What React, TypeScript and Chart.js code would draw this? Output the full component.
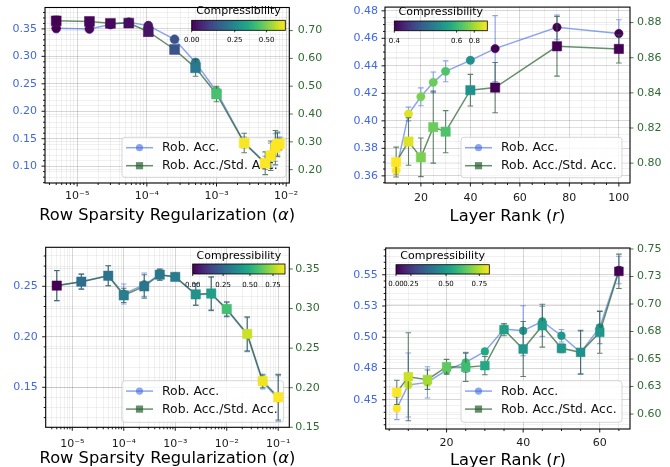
import React, { useEffect, useRef } from "react";
import { Chart, registerables } from "chart.js";

Chart.register(...registerables);

// ================= DATA =================
// Top-left: row sparsity regularization (model 1)
const alpha1 = [5e-6, 1.5e-5, 3e-5, 5.5e-5, 1.05e-4, 2.5e-4, 5e-4, 1e-3, 2.5e-3, 5e-3, 6e-3, 7e-3, 7.5e-3, 8e-3];
const robAcc1 = [0.351, 0.35, 0.358, 0.362, 0.356, 0.331, 0.289, 0.236, 0.143, 0.106, 0.12, 0.134, 0.14, 0.141];
const robAccErr1 = [0.008, 0.007, 0.005, 0.004, 0.004, 0.004, 0.006, 0.007, 0.01, 0.012, 0.022, 0.025, 0.02, 0.012];
const ratio1 = [0.735, 0.733, 0.726, 0.727, 0.696, 0.632, 0.566, 0.472, 0.296, 0.223, 0.25, 0.279, 0.291, 0.293];
const ratioErr1 = [0.017, 0.012, 0.012, 0.012, 0.008, 0.01, 0.03, 0.028, 0.035, 0.041, 0.053, 0.062, 0.044, 0.02];
const comp1 = [0.0, 0.01, 0.01, 0.02, 0.03, 0.14, 0.22, 0.43, 0.64, 0.65, 0.65, 0.65, 0.65, 0.65];
const xTicks1 = [1e-5, 1e-4, 1e-3, 1e-2];
const yLeftTicks1 = [0.1, 0.15, 0.2, 0.25, 0.3, 0.35];
const yRightTicks1 = [0.2, 0.3, 0.4, 0.5, 0.6, 0.7];
const cbTicks1 = [0.0, 0.25, 0.5];
const cbLabels1 = ["0.00", "0.25", "0.50"];
const cbMax1 = 0.647;

// Top-right: layer rank (model 1)
const rank2 = [10, 15, 20, 25, 30, 40, 50, 75, 100];
const robAcc2 = [0.364, 0.405, 0.4175, 0.428, 0.436, 0.444, 0.4525, 0.468, 0.4635];
const robAccErr2 = [0.003, 0.005, 0.0065, 0.0075, 0.0076, 0.001, 0.024, 0.009, 0.01];
const ratio2 = [0.8006, 0.8123, 0.8033, 0.8205, 0.8179, 0.8415, 0.843, 0.8665, 0.865];
const ratioErr2 = [0.0085, 0.0135, 0.011, 0.0205, 0.012, 0.009, 0.0143, 0.017, 0.008];
const comp2 = [0.947, 0.895, 0.737, 0.705, 0.653, 0.549, 0.4, 0.4, 0.4];
const xTicks2 = [20, 40, 60, 80, 100];
const yLeftTicks2 = [0.36, 0.38, 0.4, 0.42, 0.44, 0.46, 0.48];
const yRightTicks2 = [0.8, 0.82, 0.84, 0.86, 0.88];
const cbTicks2 = [0.4, 0.6, 0.8];
const cbLabels2 = ["0.4", "0.6", "0.8"];
const cbMax2 = 0.947;

// Bottom-left: row sparsity regularization (model 2)
const alpha3 = [5e-6, 1.5e-5, 5e-5, 1e-4, 2.5e-4, 5e-4, 1e-3, 2.5e-3, 5e-3, 1e-2, 2.5e-2, 5e-2, 1e-1];
const robAcc3 = [0.2506, 0.2546, 0.2605, 0.2424, 0.2516, 0.2615, 0.2595, 0.2417, 0.2424, 0.2268, 0.2021, 0.155, 0.139];
const robAccErr3 = [0.0149, 0.0074, 0.0099, 0.0099, 0.0116, 0.0054, 0.002, 0.0107, 0.0165, 0.0071, 0.0168, 0.0066, 0.0226];
const ratio3 = [0.329, 0.334, 0.3415, 0.3166, 0.328, 0.3428, 0.34, 0.318, 0.319, 0.2995, 0.268, 0.2085, 0.188];
const ratioErr3 = [0.019, 0.0095, 0.0126, 0.009, 0.0148, 0.007, 0.0025, 0.0136, 0.021, 0.0091, 0.0215, 0.0085, 0.0288];
const comp3 = [0.0, 0.276, 0.293, 0.328, 0.302, 0.31, 0.319, 0.405, 0.44, 0.58, 0.8, 0.86, 0.88];
const xTicks3 = [1e-5, 1e-4, 1e-3, 1e-2, 1e-1];
const yLeftTicks3 = [0.15, 0.2, 0.25];
const yRightTicks3 = [0.15, 0.2, 0.25, 0.3, 0.35];
const cbTicks3 = [0.0, 0.25, 0.5, 0.75];
const cbLabels3 = ["0.00", "0.25", "0.50", "0.75"];
const cbMax3 = 0.88;

// Bottom-right: layer rank (model 2)
const rank4 = [7, 10, 15, 20, 25, 30, 35, 40, 45, 50, 55, 60, 65];
const robAcc4 = [0.4431, 0.4618, 0.4639, 0.4738, 0.4799, 0.4887, 0.5066, 0.5052, 0.5127, 0.5012, 0.4879, 0.5079, 0.5538];
const robAccErr4 = [0.009, 0.0256, 0.0125, 0.003, 0.008, 0.002, 0.003, 0.02, 0.012, 0.005, 0.017, 0.013, 0.011];
const ratio4 = [0.6197, 0.6339, 0.6312, 0.643, 0.6425, 0.644, 0.6767, 0.6591, 0.6803, 0.6597, 0.6561, 0.6743, 0.7297];
const ratioErr4 = [0.011, 0.04, 0.0088, 0.0067, 0.0129, 0.0083, 0.0055, 0.025, 0.0195, 0.004, 0.02, 0.019, 0.0156];
const comp4 = [0.825, 0.77, 0.73, 0.65, 0.607, 0.545, 0.517, 0.49, 0.503, 0.49, 0.475, 0.49, 0.0];
const xTicks4 = [20, 40, 60];
const yLeftTicks4 = [0.45, 0.475, 0.5, 0.525, 0.55];
const yRightTicks4 = [0.6, 0.625, 0.65, 0.675, 0.7, 0.725, 0.75];
const cbTicks4 = [0.0, 0.25, 0.5, 0.75];
const cbLabels4 = ["0.00", "0.25", "0.50", "0.75"];
const cbMax4 = 0.825;

const legendLabels = ["Rob. Acc.", "Rob. Acc./Std. Acc."];

// ================= STYLE =================
const FONT = "'DejaVu Sans', 'Liberation Sans', sans-serif";
const BLUE_TXT = "#4169e1";
const GREEN_TXT = "#2e6b31";
const BLUE_LINE = "rgba(65,105,225,0.6)";
const GREEN_LINE = "rgba(40,95,45,0.7)";
const BLUE_ERR = "rgba(65,105,225,0.6)";
const GREEN_ERR = "rgba(45,90,60,0.75)";
const GRID_MAJOR = "rgba(0,0,0,0.2)";
const GRID_MINOR = "rgba(0,0,0,0.07)";
const GRID_RIGHT = "rgba(0,0,0,0.09)";

const VIRIDIS = ["#440154", "#482475", "#414487", "#355f8d", "#2a788e", "#21918c", "#22a884", "#44bf70", "#7ad151", "#bddf26", "#fde725"];
const VRGB = VIRIDIS.map((h) => [parseInt(h.slice(1, 3), 16), parseInt(h.slice(3, 5), 16), parseInt(h.slice(5, 7), 16)]);
function viridis(t: number) {
  const c = Math.max(0, Math.min(1, t));
  const p = c * 10;
  const i = Math.min(9, Math.floor(p));
  const f = p - i;
  const a = VRGB[i], b = VRGB[i + 1];
  return `rgb(${Math.round(a[0] + (b[0] - a[0]) * f)},${Math.round(a[1] + (b[1] - a[1]) * f)},${Math.round(a[2] + (b[2] - a[2]) * f)})`;
}
function normFrac(v: number, vals: number[], fracs: number[]) {
  if (v <= vals[0]) return fracs[0];
  for (let i = 0; i < vals.length - 1; i++) {
    if (v <= vals[i + 1]) return fracs[i] + ((v - vals[i]) / (vals[i + 1] - vals[i])) * (fracs[i + 1] - fracs[i]);
  }
  return fracs[fracs.length - 1];
}

type TickObj = { value: number; major: boolean };
function buildLinTicks(min: number, max: number, majors: number[], minorStep: number): TickObj[] {
  const out: TickObj[] = [];
  majors.forEach((m) => {
    if (m >= min - 1e-12 && m <= max + 1e-12) out.push({ value: m, major: true });
  });
  if (minorStep > 0) {
    const k0 = Math.ceil(min / minorStep - 1e-9);
    const k1 = Math.floor(max / minorStep + 1e-9);
    for (let k = k0; k <= k1; k++) {
      const v = +(k * minorStep).toFixed(10);
      if (!majors.some((m) => Math.abs(m - v) < minorStep * 1e-3)) out.push({ value: v, major: false });
    }
  }
  return out.sort((a, b) => a.value - b.value);
}
function buildLogTicks(min: number, max: number): TickObj[] {
  const out: TickObj[] = [];
  const d0 = Math.floor(Math.log10(min));
  const d1 = Math.ceil(Math.log10(max));
  for (let d = d0; d <= d1; d++) {
    for (let m = 1; m <= 9; m++) {
      const v = m * Math.pow(10, d);
      if (v >= min && v <= max) out.push({ value: v, major: m === 1 });
    }
  }
  return out;
}
const SUP: Record<string, string> = { "-": "\u207b", "0": "\u2070", "1": "\u00b9", "2": "\u00b2", "3": "\u00b3", "4": "\u2074", "5": "\u2075", "6": "\u2076", "7": "\u2077", "8": "\u2078", "9": "\u2079" };
function pow10Label(v: number) {
  const e = Math.round(Math.log10(v));
  return "10" + String(e).split("").map((c) => SUP[c]).join("");
}
const fmt2 = (v: number) => (v + 1e-9).toFixed(2);

type Panel = {
  left: number; top: number; w: number; h: number;
  area: { l: number; r: number; t: number; b: number };
  xType: "logarithmic" | "linear";
  xMin: number; xMax: number; xMajor: number[]; xMinor: number;
  yLMin: number; yLMax: number; yLMajor: number[]; yLMinor: number;
  yRMin: number; yRMax: number; yRMajor: number[];
  x: number[]; acc: number[]; accErr: number[]; ratio: number[]; ratioErr: number[]; comp: number[];
  cbTicks: number[]; cbLabels: string[]; cbMax: number; cbFracs: number[];
  cbar: { x: number; y: number; w: number; h: number; titleY: number; labelY: number };
  legend: { x: number; y: number; w: number; h: number };
  xPad: number; yLPad: number; yRPad: number; titleDy: number;
  title: [string, boolean][];
  rC: number; rS: number;
};

const panels: Panel[] = [
  {
    left: 0, top: 0, w: 335, h: 234,
    area: { l: 45, r: 289.3, t: 3.5, b: 183 },
    xType: "logarithmic", xMin: Math.pow(10, -5.462), xMax: Math.pow(10, -1.955), xMajor: xTicks1, xMinor: 0,
    yLMin: 0.0693, yLMax: 0.389, yLMajor: yLeftTicks1, yLMinor: 0.01,
    yRMin: 0.152, yRMax: 0.783, yRMajor: yRightTicks1,
    x: alpha1, acc: robAcc1, accErr: robAccErr1, ratio: ratio1, ratioErr: ratioErr1, comp: comp1,
    cbTicks: cbTicks1, cbLabels: cbLabels1, cbMax: cbMax1, cbFracs: [0, 0.46, 0.8],
    cbar: { x: 191.7, y: 20.3, w: 93.6, h: 10, titleY: 11.5, labelY: 40.5 },
    legend: { x: 122, y: 137.3, w: 164, h: 40 },
    xPad: 7, yLPad: 8, yRPad: 8.5, titleDy: 32.7,
    title: [["Row Sparsity Regularization (", false], ["\u03b1", true], [")", false]],
    rC: 4.5, rS: 7,
  },
  {
    left: 335, top: 0, w: 335, h: 234,
    area: { l: 50, r: 295, t: 3.5, b: 183 },
    xType: "linear", xMin: 5.5, xMax: 104.5, xMajor: xTicks2, xMinor: 5,
    yLMin: 0.3548, yLMax: 0.4827, yLMajor: yLeftTicks2, yLMinor: 0.005,
    yRMin: 0.7887, yRMax: 0.8888, yRMajor: yRightTicks2,
    x: rank2, acc: robAcc2, accErr: robAccErr2, ratio: ratio2, ratioErr: ratioErr2, comp: comp2,
    cbTicks: cbTicks2, cbLabels: cbLabels2, cbMax: cbMax2, cbFracs: [0, 0.67, 0.86],
    cbar: { x: 59.3, y: 21, w: 93, h: 9.7, titleY: 12.3, labelY: 41.5 },
    legend: { x: 126, y: 137.3, w: 161, h: 40.4 },
    xPad: 9, yLPad: 7, yRPad: 7, titleDy: 33.7,
    title: [["Layer Rank (", false], ["r", true], [")", false]],
    rC: 4.2, rS: 6.6,
  },
  {
    left: 0, top: 234, w: 335, h: 233,
    area: { l: 45.7, r: 289.3, t: 13.3, b: 193.3 },
    xType: "logarithmic", xMin: Math.pow(10, -5.516), xMax: Math.pow(10, -0.785), xMajor: xTicks3, xMinor: 0,
    yLMin: 0.1104, yLMax: 0.2886, yLMajor: yLeftTicks3, yLMinor: 0.01,
    yRMin: 0.15, yRMax: 0.3774, yRMajor: yRightTicks3,
    x: alpha3, acc: robAcc3, accErr: robAccErr3, ratio: ratio3, ratioErr: ratioErr3, comp: comp3,
    cbTicks: cbTicks3, cbLabels: cbLabels3, cbMax: cbMax3, cbFracs: [0, 0.33, 0.62, 0.87],
    cbar: { x: 192.7, y: 30, w: 92.3, h: 10, titleY: 22, labelY: 51 },
    legend: { x: 122, y: 146.7, w: 161.6, h: 41.6 },
    xPad: 10.5, yLPad: 8, yRPad: 6, titleDy: 31.7,
    title: [["Row Sparsity Regularization (", false], ["\u03b1", true], [")", false]],
    rC: 4.2, rS: 6.6,
  },
  {
    left: 335, top: 234, w: 335, h: 233,
    area: { l: 50.7, r: 295, t: 14, b: 195 },
    xType: "linear", xMin: 4.1, xMax: 67.9, xMajor: xTicks4, xMinor: 5,
    yLMin: 0.4266, yLMax: 0.5714, yLMajor: yLeftTicks4, yLMinor: 0.005,
    yRMin: 0.5864, yRMax: 0.7509, yRMajor: yRightTicks4,
    x: rank4, acc: robAcc4, accErr: robAccErr4, ratio: ratio4, ratioErr: ratioErr4, comp: comp4,
    cbTicks: cbTicks4, cbLabels: cbLabels4, cbMax: cbMax4, cbFracs: [0, 0.16, 0.536, 0.893],
    cbar: { x: 61, y: 30.7, w: 93.3, h: 9.3, titleY: 21.8, labelY: 50 },
    legend: { x: 126, y: 146.7, w: 161, h: 41.6 },
    xPad: 7.6, yLPad: 8, yRPad: 7, titleDy: 31.7,
    title: [["Layer Rank (", false], ["r", true], [")", false]],
    rC: 3.9, rS: 6.2,
  },
];

function roundRect(ctx: CanvasRenderingContext2D, x: number, y: number, w: number, h: number, r: number) {
  ctx.beginPath();
  ctx.moveTo(x + r, y);
  ctx.lineTo(x + w - r, y);
  ctx.arcTo(x + w, y, x + w, y + r, r);
  ctx.lineTo(x + w, y + h - r);
  ctx.arcTo(x + w, y + h, x + w - r, y + h, r);
  ctx.lineTo(x + r, y + h);
  ctx.arcTo(x, y + h, x, y + h - r, r);
  ctx.lineTo(x, y + r);
  ctx.arcTo(x, y, x + r, y, r);
  ctx.closePath();
}

function makePlugin(p: Panel) {
  return {
    id: "panelDecor",
    beforeDatasetsDraw(chart: any) {
      const ctx: CanvasRenderingContext2D = chart.ctx;
      // colorbar
      const C = p.cbar;
      ctx.save();
      const g = ctx.createLinearGradient(C.x, 0, C.x + C.w, 0);
      VIRIDIS.forEach((c, i) => g.addColorStop(i / 10, c));
      ctx.fillStyle = g;
      ctx.fillRect(C.x, C.y, C.w, C.h);
      ctx.strokeStyle = "#000";
      ctx.lineWidth = 0.8;
      ctx.strokeRect(C.x, C.y, C.w, C.h);
      ctx.fillStyle = "#000";
      ctx.textAlign = "center";
      ctx.textBaseline = "middle";
      ctx.font = `11px ${FONT}`;
      ctx.fillText("Compressibility", C.x + C.w / 2, C.titleY);
      ctx.font = `7px ${FONT}`;
      p.cbLabels.forEach((lab, i) => {
        const px = C.x + p.cbFracs[i] * C.w;
        ctx.beginPath();
        ctx.moveTo(px, C.y + C.h);
        ctx.lineTo(px, C.y + C.h + 2);
        ctx.stroke();
        ctx.fillText(lab, px, C.labelY);
      });
      ctx.restore();

      // legend (drawn beneath the data marks, as in the reference)
      const L = p.legend;
      ctx.save();
      roundRect(ctx, L.x, L.y, L.w, L.h, 3);
      ctx.fillStyle = "rgba(255,255,255,0.8)";
      ctx.fill();
      ctx.strokeStyle = "rgba(204,204,204,0.8)";
      ctx.lineWidth = 1;
      ctx.stroke();
      const rows = [
        { label: legendLabels[0], color: BLUE_LINE, marker: "circle" },
        { label: legendLabels[1], color: GREEN_LINE, marker: "rect" },
      ];
      rows.forEach((row, i) => {
        const cy = L.y + 10.4 + i * 18;
        ctx.strokeStyle = row.color;
        ctx.lineWidth = 1.5;
        ctx.beginPath();
        ctx.moveTo(L.x + 4, cy);
        ctx.lineTo(L.x + 31, cy);
        ctx.stroke();
        ctx.fillStyle = row.color;
        const mx = L.x + 17.5;
        if (row.marker === "circle") {
          ctx.beginPath();
          ctx.arc(mx, cy, 3.6, 0, Math.PI * 2);
          ctx.fill();
        } else {
          ctx.fillRect(mx - 3.6, cy - 3.6, 7.2, 7.2);
        }
        ctx.fillStyle = "#111";
        ctx.font = `12.4px ${FONT}`;
        ctx.textAlign = "left";
        ctx.textBaseline = "middle";
        ctx.fillText(row.label, L.x + 40, cy + 0.5);
      });
      ctx.restore();
    },
    beforeDatasetDraw(chart: any, args: any) {
      const ds = chart.data.datasets[args.index];
      const yScale = chart.scales[ds.yAxisID];
      const ctx: CanvasRenderingContext2D = chart.ctx;
      ctx.save();
      ctx.strokeStyle = ds.errColor;
      ctx.lineWidth = 1.1;
      const cap = 2.8;
      args.meta.data.forEach((el: any, j: number) => {
        const v = ds.data[j].y;
        const e = ds.errors[j];
        const x = el.x;
        const y1 = yScale.getPixelForValue(v + e);
        const y2 = yScale.getPixelForValue(v - e);
        ctx.beginPath();
        ctx.moveTo(x, y1);
        ctx.lineTo(x, y2);
        ctx.moveTo(x - cap, y1);
        ctx.lineTo(x + cap, y1);
        ctx.moveTo(x - cap, y2);
        ctx.lineTo(x + cap, y2);
        ctx.stroke();
      });
      ctx.restore();
    },
    afterDraw(chart: any) {
      const ctx: CanvasRenderingContext2D = chart.ctx;
      const a = chart.chartArea;
      ctx.save();
      const drawTicks = (id: string, side: string, color: string) => {
        const s = chart.scales[id];
        ctx.strokeStyle = color;
        ctx.lineWidth = 0.9;
        s.ticks.forEach((t: any) => {
          const len = t.major ? 3.5 : 2;
          const px = s.getPixelForValue(t.value);
          ctx.beginPath();
          if (side === "bottom") {
            ctx.moveTo(px, a.bottom);
            ctx.lineTo(px, a.bottom + len);
          } else if (side === "left") {
            ctx.moveTo(a.left, px);
            ctx.lineTo(a.left - len, px);
          } else {
            ctx.moveTo(a.right, px);
            ctx.lineTo(a.right + len, px);
          }
          ctx.stroke();
        });
      };
      drawTicks("x", "bottom", "#000");
      drawTicks("yL", "left", "#000");
      drawTicks("yR", "right", GREEN_TXT);
      ctx.strokeStyle = "#000";
      ctx.lineWidth = 1.1;
      ctx.strokeRect(a.left, a.top, a.right - a.left, a.bottom - a.top);
      const parts = p.title;
      const fonts = parts.map(([, it]) => `${it ? "italic " : ""}16.3px ${FONT}`);
      let total = 0;
      const ws = parts.map(([t], i) => {
        ctx.font = fonts[i];
        const w = ctx.measureText(t).width;
        total += w;
        return w;
      });
      let x = (a.left + a.right) / 2 - total / 2;
      const y = a.bottom + p.titleDy;
      ctx.fillStyle = "#000";
      ctx.textAlign = "left";
      ctx.textBaseline = "middle";
      parts.forEach(([t], i) => {
        ctx.font = fonts[i];
        ctx.fillText(t, x, y);
        x += ws[i];
      });
      ctx.restore();
    },
  };
}

function makeConfig(p: Panel): any {
  const xTickObjs = p.xType === "logarithmic" ? buildLogTicks(p.xMin, p.xMax) : buildLinTicks(p.xMin, p.xMax, p.xMajor, p.xMinor);
  const yLObjs = buildLinTicks(p.yLMin, p.yLMax, p.yLMajor, p.yLMinor);
  const yRObjs = buildLinTicks(p.yRMin, p.yRMax, p.yRMajor, 0);
  const vals = [...p.cbTicks, p.cbMax];
  const fracs = [...p.cbFracs, 1];
  const colors = p.comp.map((c) => viridis(normFrac(c, vals, fracs)));
  const zeroPad = (s: any) => {
    s.paddingLeft = 0;
    s.paddingRight = 0;
    s.paddingTop = 0;
    s.paddingBottom = 0;
  };
  return {
    type: "line",
    data: {
      datasets: [
        {
          label: legendLabels[0],
          data: p.x.map((x, i) => ({ x, y: p.acc[i] })),
          yAxisID: "yL",
          borderColor: BLUE_LINE,
          borderWidth: 1.5,
          pointStyle: "circle",
          pointRadius: p.rC,
          pointBackgroundColor: colors,
          pointBorderColor: colors,
          pointBorderWidth: 0.5,
          tension: 0,
          order: 1,
          errors: p.accErr,
          errColor: BLUE_ERR,
        },
        {
          label: legendLabels[1],
          data: p.x.map((x, i) => ({ x, y: p.ratio[i] })),
          yAxisID: "yR",
          borderColor: GREEN_LINE,
          borderWidth: 1.5,
          pointStyle: "rect",
          pointRadius: p.rS,
          pointBackgroundColor: colors,
          pointBorderColor: colors,
          pointBorderWidth: 0.5,
          tension: 0,
          order: 0,
          errors: p.ratioErr,
          errColor: GREEN_ERR,
        },
      ],
    },
    options: {
      responsive: false,
      animation: false,
      devicePixelRatio: 1,
      events: [],
      layout: { padding: { top: p.area.t, left: 0, right: 0, bottom: 0 } },
      plugins: { legend: { display: false }, tooltip: { enabled: false } },
      scales: {
        x: {
          type: p.xType,
          position: "bottom",
          min: p.xMin,
          max: p.xMax,
          bounds: "data",
          afterBuildTicks: (s: any) => {
            s.ticks = xTickObjs.map((t) => ({ ...t }));
          },
          afterFit: (s: any) => {
            s.height = p.h - p.area.b;
            zeroPad(s);
          },
          grid: { drawTicks: false, lineWidth: 0.8, color: (c: any) => (c.tick && c.tick.major ? GRID_MAJOR : GRID_MINOR) },
          border: { display: false },
          ticks: {
            autoSkip: false,
            maxRotation: 0,
            minRotation: 0,
            padding: p.xPad,
            color: "#1a1a1a",
            font: { family: FONT, size: 11 },
            callback: (v: number, i: number, ticks: any[]) =>
              ticks[i] && ticks[i].major ? (p.xType === "logarithmic" ? pow10Label(v) : String(Math.round(v))) : "",
          },
        },
        yL: {
          type: "linear",
          position: "left",
          min: p.yLMin,
          max: p.yLMax,
          bounds: "data",
          afterBuildTicks: (s: any) => {
            s.ticks = yLObjs.map((t) => ({ ...t }));
          },
          afterFit: (s: any) => {
            s.width = p.area.l;
            zeroPad(s);
          },
          grid: { drawTicks: false, lineWidth: 0.8, color: (c: any) => (c.tick && c.tick.major ? GRID_MAJOR : GRID_MINOR) },
          border: { display: false },
          ticks: {
            autoSkip: false,
            padding: p.yLPad,
            color: BLUE_TXT,
            font: { family: FONT, size: 11 },
            callback: (v: number, i: number, ticks: any[]) => (ticks[i] && ticks[i].major ? fmt2(v) : ""),
          },
        },
        yR: {
          type: "linear",
          position: "right",
          min: p.yRMin,
          max: p.yRMax,
          bounds: "data",
          afterBuildTicks: (s: any) => {
            s.ticks = yRObjs.map((t) => ({ ...t }));
          },
          afterFit: (s: any) => {
            s.width = p.w - p.area.r;
            zeroPad(s);
          },
          grid: { drawTicks: false, lineWidth: 0.8, color: GRID_RIGHT },
          border: { display: false },
          ticks: {
            autoSkip: false,
            padding: p.yRPad,
            color: GREEN_TXT,
            font: { family: FONT, size: 11 },
            callback: (v: number, i: number, ticks: any[]) => (ticks[i] && ticks[i].major ? fmt2(v) : ""),
          },
        },
      },
    },
    plugins: [makePlugin(p)],
  };
}

function PanelChart({ p }: { p: Panel }) {
  const ref = useRef<HTMLCanvasElement>(null);
  useEffect(() => {
    const canvas = ref.current;
    if (!canvas) return;
    const chart = new Chart(canvas, makeConfig(p));
    return () => chart.destroy();
  }, [p]);
  return (
    <canvas
      ref={ref}
      width={p.w}
      height={p.h}
      style={{ position: "absolute", left: p.left, top: p.top, width: p.w, height: p.h, display: "block" }}
    />
  );
}

export default function App() {
  return (
    <div style={{ position: "absolute", left: 0, top: 0, width: 670, height: 467, background: "#fff", overflow: "hidden" }}>
      {panels.map((p, i) => (
        <PanelChart key={i} p={p} />
      ))}
    </div>
  );
}
